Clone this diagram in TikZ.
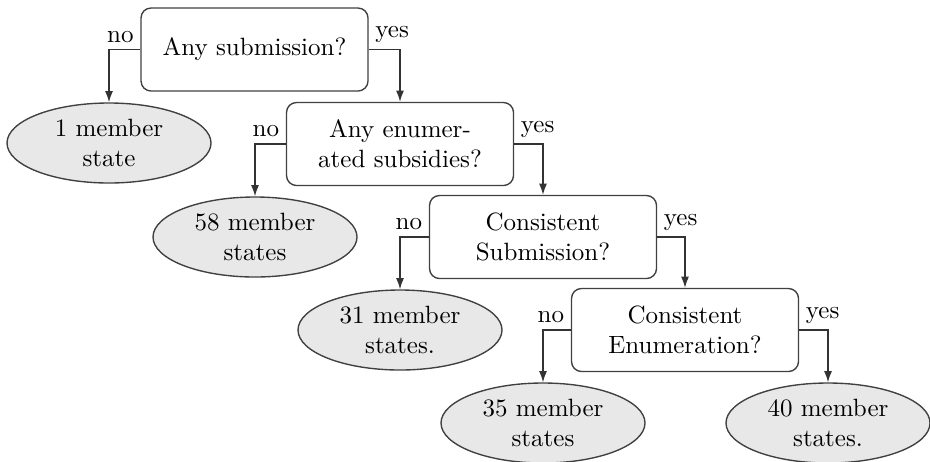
\documentclass[tikz,border=0pt]{standalone}
\usetikzlibrary{arrows.meta,shapes.geometric}
\begin{document}
\begin{tikzpicture}[x=0.4pt,y=-0.4pt,
  qbox/.style={draw=black!75,line width=0.55pt,rounded corners=4pt,minimum width=90.8pt,minimum height=33.2pt,align=center,inner sep=2pt},
  leaf/.style={ellipse,draw=black!75,line width=0.55pt,fill=black!9,minimum width=81.6pt,minimum height=32pt,align=center,inner sep=0pt},
  arr/.style={draw=black!80,line width=0.55pt,-{Latex[length=4.5pt,width=3.2pt]}},
  lbl/.style={inner sep=2.5pt,font=\normalsize}]
\useasboundingbox (0,0) rectangle (930,461);
\node[qbox] (b1) at (254.5,49.5) {Any submission?};
\node[qbox] (b2) at (400,144) {Any enumer-\\ated subsidies?};
\node[qbox] (b3) at (543,237) {Consistent\\Submission?};
\node[qbox] (b4) at (685,330) {Consistent\\Enumeration?};
\node[leaf] (e1) at (109,143) {1 member\\state};
\node[leaf] (e2) at (255,237) {58 member\\states};
\node[leaf] (e3) at (400,330) {31 member\\states.};
\node[leaf] (e4) at (543,423) {35 member\\states};
\node[leaf] (e5) at (828,423) {40 member\\states.};
\draw[arr] (b1.west) -| (e1.north);
\draw[arr] (b1.east) -| (b2.north);
\draw[arr] (b2.west) -| (e2.north);
\draw[arr] (b2.east) -| (b3.north);
\draw[arr] (b3.west) -| (e3.north);
\draw[arr] (b3.east) -| (b4.north);
\draw[arr] (b4.west) -| (e4.north);
\draw[arr] (b4.east) -| (e5.north);
\node[lbl,above left] (n1) at (b1.west) {no};
\node[lbl,above right] (y1) at (b1.east) {yes};
\node[lbl,above left] (n2) at (b2.west) {no};
\node[lbl,above right] (y2) at (b2.east) {yes};
\node[lbl,above left] (n3) at (b3.west) {no};
\node[lbl,above right] (y3) at (b3.east) {yes};
\node[lbl,above left] (n4) at (b4.west) {no};
\node[lbl,above right] (y4) at (b4.east) {yes};
\end{tikzpicture}
\end{document}
